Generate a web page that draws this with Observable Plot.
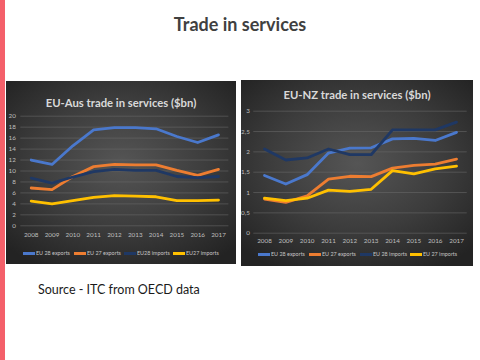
<!DOCTYPE html>
<html>
<head>
<meta charset="utf-8">
<script src="https://cdn.jsdelivr.net/npm/d3@7"></script>
<script src="https://cdn.jsdelivr.net/npm/@observablehq/plot@0.6"></script>
<style>
  html, body { margin: 0; padding: 0; background: #fff; }
  #page { position: relative; width: 480px; height: 360px; overflow: hidden; font-family: Lato, "Open Sans", sans-serif; }
  #stripe { position: absolute; left: 0; top: 0; width: 5px; height: 360px; background: #f4606a; }
  #title { position: absolute; left: 0; width: 480px; top: 13px; text-align: center; font-weight: bold; font-size: 18px; color: #404040; }
  #source { position: absolute; left: 38px; top: 282px; font-size: 12.5px; color: #1a1a1a; }
  .panel { position: absolute; background: radial-gradient(ellipse 70% 65% at 50% 45%, #555555 0%, #3c3c3c 55%, #232323 100%); }
  .ptitle { position: absolute; left: 0; right: 0; text-align: center; font-weight: bold; font-size: 11.3px; color: #d9d9d9; line-height: 12px; }
  .panel svg { position: absolute; left: 0; top: 0; overflow: visible; }
  .legend { position: absolute; left: 0; width: 100%; height: 8px; font-size: 5.4px; color: #c4c4c4; line-height: 8px; white-space: nowrap; }
  .item { position: absolute; top: 0; white-space: nowrap; }
  .sw { display: inline-block; width: 12px; height: 2.6px; vertical-align: middle; margin-right: 1px; }
</style>
</head>
<body>
<div id="page">
  <div id="stripe"></div>
  <div id="title">Trade in services</div>
  <div id="source">Source - ITC from OECD data</div>
</div>
<script>
const years = [2008, 2009, 2010, 2011, 2012, 2013, 2014, 2015, 2016, 2017];
const seriesColors = ["#4a78cc", "#ed7d31", "#1f3864", "#ffc000"];

// EU-Australia ($bn)
const ausSeries = ["EU 28 exports", "EU 27 exports", "EU28 imports", "EU27 imports"];
const ausEU28Exports = [12.0, 11.2, 14.6, 17.5, 17.9, 17.9, 17.7, 16.3, 15.2, 16.6];
const ausEU27Exports = [6.9, 6.6, 9.0, 10.8, 11.2, 11.1, 11.1, 10.1, 9.2, 10.3];
const ausEU28Imports = [8.7, 7.8, 8.9, 9.9, 10.3, 10.1, 10.1, 9.0, 8.8, 9.0];
const ausEU27Imports = [4.5, 4.0, 4.6, 5.2, 5.5, 5.4, 5.3, 4.6, 4.6, 4.7];
const ausTicks = [0, 2, 4, 6, 8, 10, 12, 14, 16, 18, 20];

// EU-New Zealand ($bn)
const nzSeries = ["EU 28 exports", "EU 27 exports", "EU 28 imports", "EU 27 imports"];
const nzEU28Exports = [1.42, 1.21, 1.44, 1.97, 2.09, 2.10, 2.32, 2.33, 2.28, 2.48];
const nzEU27Exports = [0.84, 0.76, 0.92, 1.33, 1.40, 1.39, 1.60, 1.67, 1.70, 1.82];
const nzEU28Imports = [2.07, 1.80, 1.85, 2.07, 1.93, 1.93, 2.54, 2.54, 2.54, 2.73];
const nzEU27Imports = [0.86, 0.80, 0.86, 1.06, 1.03, 1.08, 1.54, 1.46, 1.58, 1.65];
const nzTicks = [0, 0.5, 1, 1.5, 2, 2.5, 3];

function toRows(names, arrays) {
  const rows = [];
  names.forEach((name, i) => arrays[i].forEach((v, j) => rows.push({year: years[j], value: v, series: name})));
  return rows;
}

function makePanel(cfg) {
  const page = document.getElementById("page");
  const panel = document.createElement("div");
  panel.className = "panel";
  Object.assign(panel.style, {left: cfg.left + "px", top: cfg.top + "px", width: cfg.width + "px", height: cfg.height + "px"});
  page.appendChild(panel);

  const rows = toRows(cfg.names, cfg.arrays);
  const chart = Plot.plot({
    width: cfg.width,
    height: cfg.height,
    marginTop: cfg.mt, marginBottom: cfg.mb, marginLeft: cfg.ml, marginRight: cfg.mr,
    style: {background: "transparent", fontFamily: "Lato, 'Open Sans', sans-serif"},
    x: {domain: [2007.5, 2017.5]},
    y: {domain: cfg.ydomain},
    color: {domain: cfg.names, range: seriesColors},
    marks: [
      Plot.gridY(cfg.yticks, {stroke: "#6a6a6a", strokeOpacity: 0.8, strokeWidth: 0.7}),
      Plot.axisX(years, {tickSize: 0, tickPadding: cfg.xpad, fontSize: 6.3, fill: "#bfbfbf", tickFormat: d => String(d), label: null}),
      Plot.axisY(cfg.yticks, {tickSize: 0, tickPadding: cfg.ypad, fontSize: 6.3, fill: "#bfbfbf", tickFormat: cfg.yfmt, label: null}),
      Plot.lineY(rows, {x: "year", y: "value", z: "series", stroke: "series", strokeWidth: 2.8, strokeLinejoin: "round", strokeLinecap: "round"})
    ]
  });
  panel.appendChild(chart);

  const t = document.createElement("div");
  t.className = "ptitle";
  t.style.top = (cfg.titleY - 6) + "px";
  t.textContent = cfg.title;
  panel.appendChild(t);

  const lg = document.createElement("div");
  lg.className = "legend";
  lg.style.top = (cfg.legendY - 4) + "px";
  cfg.names.forEach((name, i) => {
    const it = document.createElement("span");
    it.className = "item";
    it.style.left = cfg.legendX[i] + "px";
    const sw = document.createElement("span");
    sw.className = "sw";
    sw.style.background = seriesColors[i];
    it.appendChild(sw);
    it.appendChild(document.createTextNode(name));
    lg.appendChild(it);
  });
  panel.appendChild(lg);
}

makePanel({
  left: 6, top: 81, width: 230, height: 183,
  mt: 34.7, mb: 38.7, ml: 14.3, mr: 7.6, xpad: 7, ypad: 5,
  ydomain: [0, 20], yticks: ausTicks, yfmt: d => String(d),
  names: ausSeries, arrays: [ausEU28Exports, ausEU27Exports, ausEU28Imports, ausEU27Imports],
  title: "EU-Aus trade in services ($bn)", titleY: 22, legendY: 172,
  legendX: [17, 68, 118, 167]
});

makePanel({
  left: 241, top: 80, width: 232, height: 186,
  mt: 30.7, mb: 33.3, ml: 12.3, mr: 6.3, xpad: 5, ypad: 4,
  ydomain: [0, 3], yticks: nzTicks, yfmt: d => String(d).replace(".", ","),
  names: nzSeries, arrays: [nzEU28Exports, nzEU27Exports, nzEU28Imports, nzEU27Imports],
  title: "EU-NZ trade in services ($bn)", titleY: 15, legendY: 174,
  legendX: [17, 68, 119, 169]
});
</script>
</body>
</html>
